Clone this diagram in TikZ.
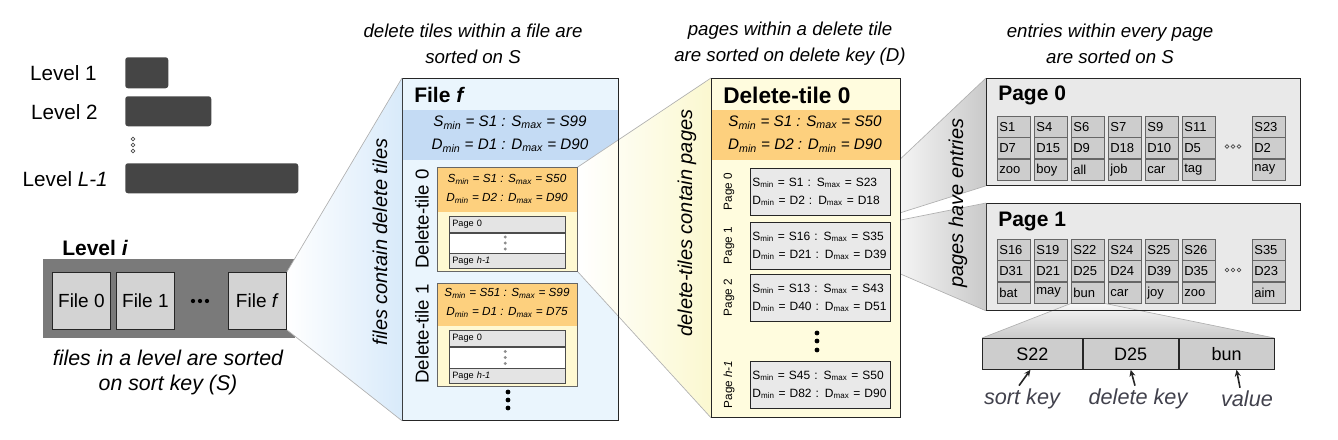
\documentclass[tikz,border=0pt]{standalone}
\usepackage{fontspec}
\setmainfont{Liberation Sans}
\usetikzlibrary{positioning, calc, arrows.meta}
\pgfdeclarelayer{bg}
\pgfsetlayers{bg,main}
\definecolor{bardark}{HTML}{454545}
\definecolor{levelgray}{HTML}{7A7A7A}
\definecolor{filegray}{HTML}{D3D3D3}
\definecolor{fileblue}{HTML}{EAF5FD}
\definecolor{bandblue}{HTML}{C4DBF4}
\definecolor{tileyellow}{HTML}{FFF9D2}
\definecolor{bigyellow}{HTML}{FFFCDE}
\definecolor{tileorange}{HTML}{FDD07E}
\definecolor{rowgray}{HTML}{E4E4E4}
\definecolor{pagegray}{HTML}{E9E9E9}
\definecolor{cellgray}{HTML}{CDCDCD}
\definecolor{fanline}{HTML}{B0B0B0}
\definecolor{fanblue}{HTML}{D8EAFA}
\definecolor{fanyellow}{HTML}{FBF8D0}
\definecolor{fangray}{HTML}{C9C9C9}
\definecolor{keytext}{HTML}{41414C}
\newcommand{\submin}{\textsubscript{min}}
\newcommand{\submax}{\textsubscript{max}}
\tikzset{
>={Stealth[length=5pt, width=4.5pt]},
wh/.style 2 args={minimum width=#1*0.75pt, minimum height=#2*0.75pt},
band/.style n args={3}{path picture={\fill[#1] ([yshift=-#2*0.75pt]path picture bounding box.north west) rectangle ([yshift=-#3*0.75pt]path picture bounding box.north east);}},
box/.style={%
    rectangle,
    draw=black!85,
    line width=0.6pt,
    inner sep=0pt,
    anchor=north west
},
bar/.style={rectangle, rounded corners=2pt, fill=bardark, inner sep=0pt, anchor=north west},
lbl/.style={font=\fontsize{15.5}{18}\selectfont, inner sep=0pt},
title/.style={font=\fontsize{15.75}{18}\selectfont\bfseries, inner sep=0pt, anchor=west},
note/.style={font=\fontsize{14}{19.5}\selectfont\itshape, align=center, inner sep=0pt},
caption/.style={font=\fontsize{16}{18.75}\selectfont\itshape, align=center, inner sep=0pt},
side/.style={rotate=90, font=\fontsize{15}{18}\selectfont\itshape, inner sep=0pt},
tilename/.style={rotate=90, font=\fontsize{14}{17}\selectfont, inner sep=0pt},
rng/.style={align=center, font=\fontsize{11.4}{17.25}\selectfont\itshape, inner sep=0pt},
smallrng/.style={align=center, font=\fontsize{8.8}{14.25}\selectfont\itshape, inner sep=0pt},
filebox/.style={box, fill=filegray, wh={58}{57}, font=\fontsize{14.25}{17}\selectfont},
pgrow/.style={box, draw=black!70, line width=0.5pt, fill=rowgray, wh={116}{16}, text width=82.5pt, align=left, inner xsep=2.25pt, font=\fontsize{6.9}{8}\selectfont},
pgbox/.style={box, fill=pagegray, wh={140}{47}, text width=102pt, align=left, inner xsep=1.5pt, font=\fontsize{9}{13.5}\selectfont},
pglabel/.style={rotate=90, font=\fontsize{8.8}{10}\selectfont, inner sep=0pt},
cell/.style={box, draw=black!60, line width=0.5pt, fill=cellgray, wh={33}{20.8}, text width=21.75pt, align=left, inner xsep=1.5pt, font=\fontsize{9.75}{11}\selectfont},
entry/.style={box, fill=cellgray, wh={95}{31}, font=\fontsize{13.5}{16}\selectfont},
keylbl/.style={font=\fontsize{16.25}{18}\selectfont\itshape, text=keytext, inner sep=0pt},
keyarrow/.style={->, line width=1.2pt, black!85},
fanlines/.style={draw=fanline, line width=0.5pt},
}

\begin{document}
\begin{tikzpicture}[x=0.75pt, y=-0.75pt]
	\useasboundingbox (0,0) rectangle (1338,439);

	% headers
	\node[note] at (473,44) (hdrfile) {delete tiles within a file are\\sorted on S};
	\node[note] at (790,44) (hdrtile) {pages within a delete tile\\are sorted on delete key (D)};
	\node[note] at (1110,44) (hdrpage) {entries within every page\\are sorted on S};

	% levels
	\node[lbl, anchor=east] at (97,73) (lvl1) {Level 1};
	\node[bar, wh={43}{31}] at (125,57) (bar1) {};
	\node[lbl, anchor=east] at (98,112) (lvl2) {Level 2};
	\node[bar, wh={86}{30}] at (125,96) (bar2) {};
	\foreach \y in {139,145,151}
		\draw[black!70, line width=0.5pt] (133,\y) circle[radius=1.4pt];
	\node[lbl, anchor=east] at (108,179) (lvl3) {Level \textit{L-1}};
	\node[bar, wh={173}{30}] at (125,163) (bar3) {};

	% level i
	\node[title] at (62,248) (leveli) {Level \textit{i}};
	\begin{pgfonlayer}{bg}
	\node[box, draw=none, fill=levelgray, wh={252}{79}] at (43,259) (levelbox) {};
	\end{pgfonlayer}
	\node[filebox] at (52,272) (file0) {File 0};
	\node[filebox] at (116,272) (file1) {File 1};
	\foreach \x in {193,200,207}
		\fill (\x,301) circle[radius=1.6pt];
	\node[filebox] at (228,272) (filef) {File \textit{f}};
	\node[caption] at (168,372) (levelcap) {files in a level are sorted\\on sort key (S)};

	% file f
	\begin{pgfonlayer}{bg}
	\node[box, fill=fileblue, band={bandblue}{32}{82}, wh={216}{342}] at (402,78) (filebox) {};
	\end{pgfonlayer}
	\node[title] at (414,95) (filetitle) {File \textit{f}};
	\node[rng] at (510,134) (filerng) {S\submin{} = S1 : S\submax{} = S99\\D\submin{} = D1 : D\submax{} = D90};
	\node[side] at (380,242) (sidefile) {files contain delete tiles};

	\node[box, draw=black!60, fill=tileyellow, band={tileorange}{0}{45}, wh={140}{104}] at (437,167) (dt0) {};
	\node[smallrng] at (507,189) (dt0rng) {S\submin{} = S1 : S\submax{} = S50\\D\submin{} = D2 : D\submax{} = D90};
	\node[pgrow] at (449,216) (dt0first) {Page 0};
	\node[pgrow, fill=white, wh={116}{20}, below=0pt of dt0first] (dt0mid) {};
	\node[pgrow, wh={116}{15}, below=0pt of dt0mid] (dt0last) {Page \textit{h-1}};
	\foreach \d in {-6,0,6}
		\fill[black!45] (dt0mid.center) ++(-2,\d) circle[radius=1.2pt];
	\node[tilename] at (422,219) (dt0name) {Delete-tile 0};

	\node[box, draw=black!60, fill=tileyellow, band={tileorange}{0}{43}, wh={140}{103}] at (437,283) (dt1) {};
	\node[smallrng] at (507,303) (dt1rng) {S\submin{} = S51 : S\submax{} = S99\\D\submin{} = D1 : D\submax{} = D75};
	\node[pgrow] at (449,330) (dt1first) {Page 0};
	\node[pgrow, fill=white, wh={116}{21}, below=0pt of dt1first] (dt1mid) {};
	\node[pgrow, wh={116}{15}, below=0pt of dt1mid] (dt1last) {Page \textit{h-1}};
	\foreach \d in {-6,0,6}
		\fill[black!45] (dt1mid.center) ++(-2,\d) circle[radius=1.2pt];
	\node[tilename] at (422,334) (dt1name) {Delete-tile 1};
	\foreach \y in {392,400,408}
		\fill (508,\y) circle[radius=1.8pt];
	\draw[draw=black!85, line width=0.6pt] (filebox.north east) -- (filebox.south east);

	% delete-tile 0
	\node[box, fill=bigyellow, band={tileorange}{32}{82}, wh={189}{339}] at (711,78) (dtbig) {};
	\node[title, font=\fontsize{17}{20}\selectfont\bfseries] at (723,95) (dttitle) {Delete-tile 0};
	\node[rng] at (805,134) (dtrng) {S\submin{} = S1 : S\submax{} = S50\\D\submin{} = D2 : D\submin{} = D90};
	\foreach \n/\name/\t/\sa/\sb/\da/\db in {0/pg0/168/S1/S23/D2/D18, 1/pg1/222/S16/S35/D21/D39, 2/pg2/274/S13/S43/D40/D51, {\textit{h-1}}/pgh/361/S45/S50/D82/D90} {
		\node[pgbox] at (750,\t) (\name) {S\submin{} = \sa{} : S\submax{} = \sb\\D\submin{} = \da{} : D\submax{} = \db};
		\node[pglabel] at (729,\t+23.5) (\name-lbl) {Page \n};
	}
	\foreach \y in {333,341,350}
		\fill (817,\y) circle[radius=1.8pt];
	\node[side] at (687,223) (sidetile) {delete-tiles contain pages};

	% pages
	\node[box, fill=pagegray, wh={314}{107}] at (986,78) (page0) {};
	\node[title] at (998,95) (page0title) {Page 0};
	\foreach \x/\s/\d/\v [count=\c] in {997/S1/D7/zoo, 1034/S4/D15/boy, 1071/S6/D9/all, 1108/S7/D18/job, 1145/S9/D10/car, 1182/S11/D5/tag, 1252/S23/D2/nay} {
		\node[cell] at (\x,116) (ps\c) {\s};
		\node[cell, below=0pt of ps\c] (pd\c) {\d};
		\node[cell, below=0pt of pd\c] (pv\c) {\v};
	}
	\foreach \x in {1227,1233,1239}
		\draw[black!70, line width=0.5pt] (\x,146.5) circle[radius=1.4pt];

	\begin{pgfonlayer}{bg}
	\node[box, fill=pagegray, wh={314}{107}] at (986,203) (page1) {};
	\end{pgfonlayer}
	\node[title] at (998,221) (page1title) {Page 1};
	\foreach \x/\s/\d/\v [count=\c] in {997/S16/D31/bat, 1034/S19/D21/may, 1071/S22/D25/bun, 1108/S24/D24/car, 1145/S25/D39/joy, 1182/S26/D35/zoo, 1252/S35/D23/aim} {
		\node[cell] at (\x,239) (qs\c) {\s};
		\node[cell, below=0pt of qs\c] (qd\c) {\d};
		\node[cell, below=0pt of qd\c] (qv\c) {\v};
	}
	\foreach \x in {1227,1233,1239}
		\draw[black!70, line width=0.5pt] (\x,270) circle[radius=1.4pt];
	\node[side] at (958,203) (sidepage) {pages have entries};

	% one entry
	\node[entry, wh={100}{31}] at (982,338) (keyS) {S22};
	\node[entry, right=0pt of keyS] (keyD) {D25};
	\node[entry, right=0pt of keyD] (keyV) {bun};
	\node[keylbl] at (1022,399) (lblS) {sort key};
	\node[keylbl] at (1138,399) (lblD) {delete key};
	\node[keylbl] at (1247,399) (lblV) {value};
	\draw[keyarrow] ([shift={(-3,-3)}]lblS.north) -- ([xshift=-1.5pt]keyS.south);
	\draw[keyarrow] ([shift={(-3,-3)}]lblD.north) -- (keyD.south);
	\draw[keyarrow] ([shift={(-7,-3)}]lblV.north) -- ([xshift=7.5pt]keyV.south);

	% fans
	\begin{pgfonlayer}{bg}
	\shade[left color=white, right color=fanblue] (filef.north east) -- (filebox.north west) -- (filebox.south west) -- (filef.south east) -- cycle;
	\draw[fanlines] (filef.north east) -- (filebox.north west) (filef.south east) -- (filebox.south west);
	\shade[left color=white, right color=fanyellow] (dt0.north east) -- (dtbig.north west) -- (dtbig.south west) -- (dt0.south east) -- cycle;
	\draw[fanlines] (dt0.north east) -- (dtbig.north west) (dt0.south east) -- (dtbig.south west);
	\shade[left color=white!95!gray, right color=fangray] (pg0.north east) -- (page0.north west) -- (page0.south west) -- (pg0.south east) -- cycle;
	\draw[fanlines] (pg0.north east) -- (page0.north west) (pg0.south east) -- (page0.south west);
	\shade[left color=white!95!gray, right color=fangray] (pg1.north east) -- (page1.north west) -- (page1.south west) -- (pg1.south east) -- cycle;
	\draw[fanlines] (pg1.north east) -- (page1.north west) (pg1.south east) -- (page1.south west);
	\shade[top color=white!95!gray, bottom color=fangray] (qv3.south west) -- (qv3.south east) -- (keyV.north east) -- (keyS.north west) -- cycle;
	\draw[fanlines] (qv3.south west) -- (keyS.north west) (qv3.south east) -- (keyV.north east);
	\end{pgfonlayer}
	\draw[draw=black!85, line width=0.6pt] (page1.south west) -- (page1.south east);

\end{tikzpicture}
\end{document}
